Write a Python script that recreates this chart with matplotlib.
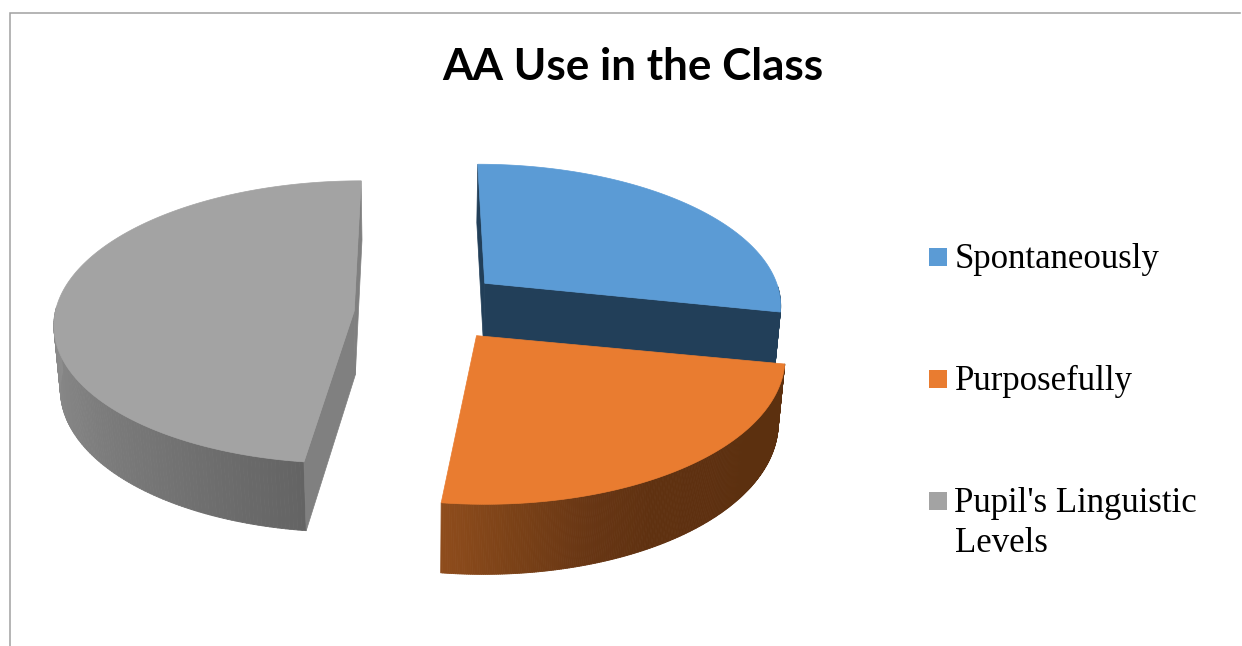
import numpy as np
import matplotlib
matplotlib.use("Agg")
import matplotlib.pyplot as plt
from matplotlib.collections import PolyCollection
from matplotlib.colors import LinearSegmentedColormap
from matplotlib.patches import Polygon, Rectangle

title = "AA Use in the Class"
labels = ["Spontaneously", "Purposefully", "Pupil's Linguistic\nLevels"]
shares = [28, 24, 48]

top_colors = ["#5b9bd5", "#e97c30", "#a3a3a3"]
cut_colors = ["#223f59", "#5c300f", "#808080"]
wall_ramps = [
    ["#223f59", "#223f59"],
    ["#5c300f", "#5c300f", "#5c300f", "#5e3010", "#5f3110", "#683614", "#7a4117", "#8e4c1c"],
    ["#646464", "#747474", "#828282", "#8c8c8c"],
]

# explode offset in the pie plane, rim adjustment, and which straight faces show
slice_setup = [
    dict(ex=0.232, ey=-0.20, rim_dy=0.02, ry=1.0, faces=(True, True)),
    dict(ex=0.195, ey=0.17, rim_dy=0.0, ry=1.0, faces=(False, False)),
    dict(ex=-0.21, ey=0.0, rim_dy=-0.04, ry=0.99, faces=(True, True)),
]

# camera: pixels per unit radius, perspective strength, pie thickness
U0, V0 = 417, 311
SCALE_X, SCALE_Y = 299, 142
PERSP = 0.12
THICK = 65
THICK_W = 0.018


def project(x, y, low=False):
    """Plane coordinates (y towards the viewer) to pixel positions."""
    w = 1 - PERSP * y
    if low:
        w = w + THICK_W
        return U0 + SCALE_X * x / w, V0 + (SCALE_Y * y + THICK) / w
    return U0 + SCALE_X * x / w, V0 + SCALE_Y * y / w


def draw_slice(ax, setup, start, stop, top, cut, ramp, order):
    theta = np.linspace(start, stop, 241)
    px = setup["ex"] + np.sin(theta)
    py = setup["ey"] + setup["rim_dy"] - setup["ry"] * np.cos(theta)
    u, v = project(px, py)
    u_low, v_low = project(px, py, low=True)

    # outer wall, shaded along the visible front of the arc
    cmap = LinearSegmentedColormap.from_list("wall", ramp)
    front = np.where((theta > np.pi / 2) & (theta < 3 * np.pi / 2))[0]
    quads = [[(u[i], v[i]), (u[i + 1], v[i + 1]), (u_low[i + 1], v_low[i + 1]), (u_low[i], v_low[i])]
             for i in front[:-1]]
    if quads:
        shades = cmap(np.linspace(0, 1, len(quads)))
        ax.add_collection(PolyCollection(quads, facecolors=shades, edgecolors=shades,
                                         linewidths=0.6, zorder=order))

    # flat faces along the two straight edges
    au, av = project(setup["ex"], setup["ey"])
    au_low, av_low = project(setup["ex"], setup["ey"], low=True)
    for show, i in zip(setup["faces"], (0, -1)):
        if show:
            ax.add_patch(Polygon([(au, av), (u[i], v[i]), (u_low[i], v_low[i]), (au_low, av_low)],
                                 facecolor=cut, edgecolor=cut, linewidth=0.5, zorder=order + 0.1))

    outline = np.column_stack([np.r_[au, u], np.r_[av, v]])
    ax.add_patch(Polygon(outline, facecolor=top, edgecolor=top, linewidth=0.5, zorder=order + 0.2))


fig = plt.figure(figsize=(12.42, 6.46), dpi=100)
ax = fig.add_axes([0, 0, 1, 1])
ax.set_xlim(0, 1242)
ax.set_ylim(646, 0)
ax.axis("off")

# chart frame
ax.plot([9.5, 9.5, 1240], [646, 12.5, 12.5], color="#a0a0a0", lw=1.1, solid_joinstyle="miter")

ax.text(632.5, 80.5, title, family="Lato", weight="bold", fontsize=31.7, ha="center", va="baseline", color="black")

angles = np.cumsum([0] + shares) / sum(shares) * 2 * np.pi
draw_order = [2, 0, 1]
for rank, idx in enumerate(draw_order):
    draw_slice(ax, slice_setup[idx], angles[idx], angles[idx + 1], top_colors[idx],
               cut_colors[idx], wall_ramps[idx], rank + 2)

# legend
legend_baselines = [268, 390, 512]
for label, color, base in zip(labels, top_colors, legend_baselines):
    ax.add_patch(Rectangle((929, base - 20), 18, 18, facecolor=color, edgecolor="none"))
    for row, line in enumerate(label.split("\n")):
        ax.text(954.5, base + row * 40, line, family="Liberation Serif", fontsize=25,
                ha="left", va="baseline", color="black")

fig.savefig("out.png", dpi=100)
